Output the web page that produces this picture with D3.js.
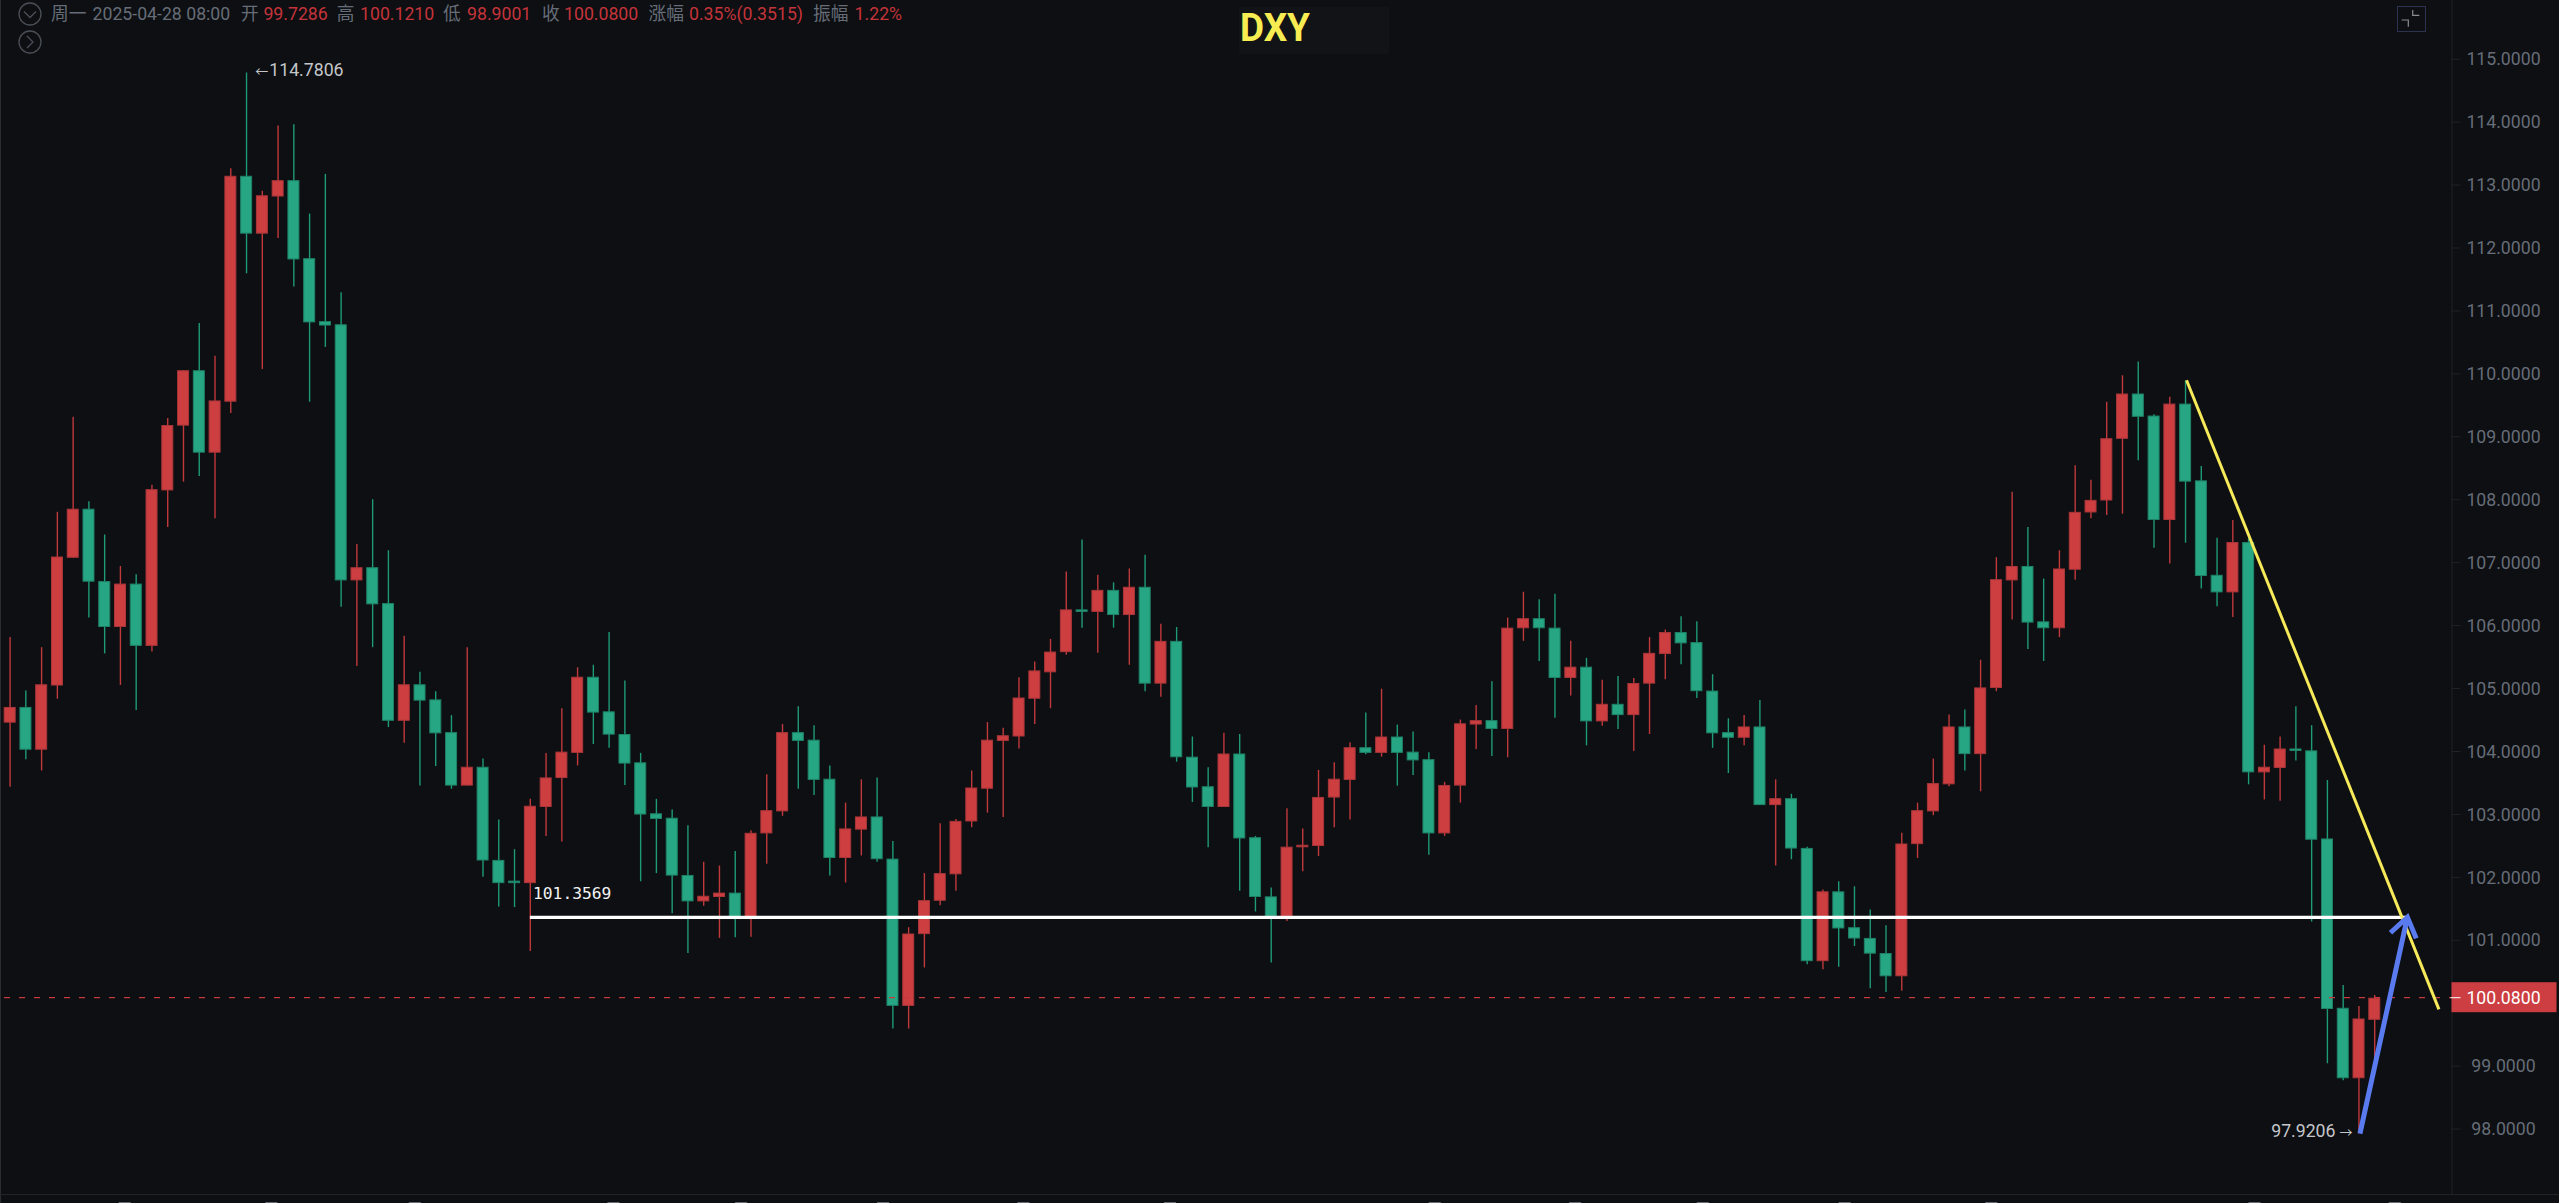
<!DOCTYPE html>
<html><head><meta charset="utf-8"><title>DXY</title>
<script src="https://cdn.jsdelivr.net/npm/d3@7/dist/d3.min.js"></script>
<style>
html,body{margin:0;padding:0;background:#0d0f12;overflow:hidden}
svg{display:block}
text{font-family:Roboto,"Noto Sans CJK SC",sans-serif}
</style></head><body>
<script>
const opens=[104.45,104.70,104.02,105.04,107.07,107.85,106.70,105.97,106.66,105.67,
108.14,109.17,110.05,108.74,109.55,113.14,112.22,112.81,113.07,111.83,
110.83,110.78,106.71,106.92,106.35,104.48,105.06,104.82,104.30,103.45,
103.75,102.27,101.94,101.90,103.11,103.57,103.97,105.18,104.63,104.27,
103.82,103.01,102.94,102.03,101.61,101.68,101.75,101.33,102.69,103.04,
104.30,104.18,103.56,102.30,102.75,102.96,102.29,99.95,101.09,101.62,
102.04,102.88,103.40,104.16,104.23,104.83,105.25,105.57,106.25,106.21,
106.56,106.16,106.61,105.07,105.75,103.91,103.44,103.11,103.96,102.63,
101.69,101.37,102.47,102.49,103.26,103.54,104.06,103.97,104.23,103.99,
103.87,102.69,103.45,104.42,104.49,104.35,105.95,106.11,105.96,105.16,
105.34,104.47,104.75,104.57,105.07,105.54,105.89,105.73,104.96,104.30,
104.21,104.39,103.14,103.25,102.46,100.66,101.77,101.20,101.03,100.79,
100.42,102.52,103.04,103.47,104.39,103.95,105.00,106.71,106.94,106.06,
105.95,106.88,107.79,107.98,108.96,109.68,109.33,107.67,109.52,108.30,
106.80,106.52,107.32,103.66,103.73,104.04,104.01,102.61,99.92,98.80,99.7286];
const highs=[105.81,104.96,105.65,107.80,109.31,107.97,107.44,106.94,106.81,108.23,
109.29,110.05,110.80,110.28,113.26,114.7806,112.90,113.94,113.96,112.54,
113.17,111.29,107.29,108.00,107.19,105.83,105.26,104.95,104.57,105.65,
103.88,102.91,102.44,103.24,103.97,104.68,105.33,105.37,105.89,105.12,
103.97,103.24,103.07,102.82,102.24,102.18,102.41,102.74,103.63,104.43,
104.71,104.41,103.77,103.18,103.55,103.58,102.57,101.20,102.06,102.85,
102.92,103.69,104.46,104.37,105.17,105.42,105.78,106.85,107.36,106.80,
106.68,106.90,107.12,106.02,105.97,104.23,103.74,104.29,104.27,102.65,
101.83,103.09,102.77,103.70,103.82,104.14,104.61,104.99,104.42,104.31,
103.98,103.51,104.50,104.73,105.11,106.12,106.53,106.41,106.50,105.75,
105.48,105.13,105.19,105.16,105.81,105.93,106.14,106.06,105.22,104.52,
104.57,104.81,103.55,103.32,102.48,101.80,101.93,101.85,101.48,101.23,
102.70,103.18,103.88,104.58,104.66,105.45,107.08,108.12,107.56,106.74,
107.19,108.54,108.31,109.55,109.97,110.19,109.35,109.63,109.89,108.53,
107.39,107.67,107.38,104.10,104.23,104.71,104.41,103.54,100.28,99.95,100.1210];
const lows=[103.43,103.87,103.69,104.83,107.07,106.12,105.55,105.05,104.65,105.58,
107.56,108.28,108.37,107.70,109.37,111.59,110.07,112.15,111.38,109.55,
110.42,106.29,105.35,105.65,104.38,104.13,103.45,103.76,103.40,103.45,
102.00,101.53,101.52,100.82,102.65,102.56,103.77,104.11,104.05,103.46,
101.93,102.06,101.42,100.79,101.54,101.03,101.04,101.05,102.21,102.97,
103.40,103.30,102.02,101.91,102.34,102.24,99.59,99.59,100.56,101.55,
101.78,102.79,103.02,102.95,104.04,104.43,104.68,105.53,105.96,105.56,
105.96,105.37,104.95,104.86,103.83,103.19,102.47,103.11,101.78,101.45,
100.64,101.30,102.09,102.33,102.79,102.91,103.95,103.91,103.45,103.62,
102.35,102.65,103.18,104.03,103.92,103.90,105.75,105.43,104.53,104.88,
104.09,104.40,104.35,104.00,104.27,105.14,105.38,104.84,104.05,103.65,
104.09,103.14,102.18,102.28,100.61,100.53,100.57,100.90,100.23,100.17,
100.19,102.30,102.98,103.44,103.69,103.36,104.95,106.09,105.62,105.43,
105.81,106.72,107.70,107.75,107.77,108.62,107.23,106.98,107.31,106.58,
106.30,106.13,103.47,103.23,103.21,103.85,101.29,99.04,98.77,97.9206,98.9001];
const closes=[104.70,104.02,105.06,107.09,107.85,106.69,105.97,106.66,105.67,108.16,
109.18,110.05,108.74,109.57,113.14,112.22,112.83,113.07,111.81,110.81,
110.76,106.71,106.92,106.33,104.48,105.06,104.80,104.28,103.45,103.75,
102.26,101.90,101.90,103.13,103.58,103.99,105.18,104.61,104.26,103.80,
102.99,102.92,102.02,101.61,101.70,101.75,101.33,102.70,103.06,104.30,
104.16,103.54,102.30,102.77,102.96,102.28,99.95,101.10,101.63,102.06,
102.89,103.42,104.18,104.25,104.85,105.28,105.58,106.25,106.21,106.56,
106.16,106.61,105.07,105.75,103.90,103.42,103.11,103.96,102.61,101.68,
101.37,102.48,102.51,103.27,103.56,104.06,103.97,104.23,103.97,103.85,
102.69,103.46,104.44,104.49,104.35,105.96,106.11,105.95,105.16,105.34,
104.47,104.75,104.57,105.08,105.56,105.89,105.71,104.95,104.28,104.21,
104.39,103.14,103.25,102.45,100.66,101.77,101.18,101.02,100.78,100.42,
102.53,103.06,103.49,104.39,103.95,105.01,106.73,106.94,106.04,105.95,
106.90,107.80,107.99,108.97,109.68,109.31,107.67,109.52,108.28,106.78,
106.52,107.32,103.66,103.75,104.04,104.00,102.59,99.90,98.80,99.75,100.0800];

const yTicks=[98,99,101,102,103,104,105,106,107,108,109,110,111,112,113,114,115];
const lastPrice=100.08;
const supportPrice=101.3569, supportFromIdx=33, supportToIdx=152.1;
const trendIdx=[138.09,154.1], trendPrice=[109.89,99.894];
const arrowIdx=[149.09,152.1], arrowPrice=[97.92,101.36];
const maxPrice=114.7806, maxIdx=15, minPrice=97.9206, minIdx=149;
const dateStubIdx=[7.3,16.6,25.7,38.3,46.4,55.4,64.3,73.6,90.4,99.3,107.4,116.4,125.7,142.4,151.3];
const header=[
 ["周一",51,"l"],["2025-04-28 08:00",92.5,"l"],["开",241,"l"],["99.7286",263.4,"v"],
 ["高",336.7,"l"],["100.1210",360,"v"],["低",443,"l"],["98.9001",467,"v"],
 ["收",542,"l"],["100.0800",564,"v"],["涨幅",648.6,"l"],["0.35%(0.3515)",689,"v"],
 ["振幅",813,"l"],["1.22%",854.6,"v"]];

const W=2559,H=1203, AX=2451.5, BOT=1194;
const BG="#0d0f12",RED="#cd3e41",GREEN="#26a683",REDW="#c0393c",GREENW="#1f9a78",
      REDB="#a93639",GREENB="#1f8268",GREY="#666d78",AXC="#202327",FS=17.7;
const x=d3.scaleLinear().domain([0,150]).range([9.67,2374.3]);
const y=d3.scaleLinear().domain([98,115]).range([1128.6,58.7]);
const svg=d3.select("body").append("svg").attr("width",W).attr("height",H);
svg.append("rect").attr("width",W).attr("height",H).attr("fill",BG);
svg.append("line").attr("x1",0.5).attr("x2",0.5).attr("y1",0).attr("y2",H).attr("stroke","#2a2d31");

// title box
svg.append("rect").attr("x",1239).attr("y",7).attr("width",150).attr("height",47).attr("fill","#111316");
svg.append("text").attr("x",1240).attr("y",40.7).attr("font-size",38.5).attr("font-weight",700)
   .attr("fill","#f7ec52").attr("textLength",70).attr("lengthAdjust","spacingAndGlyphs").text("DXY");

// candles
const data=opens.map((o,i)=>({i,o,h:highs[i],l:lows[i],c:closes[i],up:closes[i]>=o}));
const g=svg.append("g");
g.selectAll("line.w").data(data).join("line").attr("class","w")
 .attr("x1",d=>x(d.i)+0.4).attr("x2",d=>x(d.i)+0.4)
 .attr("y1",d=>y(d.h)).attr("y2",d=>y(d.l))
 .attr("stroke",d=>d.up?REDW:GREENW).attr("stroke-width",1.4);
g.selectAll("rect.b").data(data).join("rect").attr("class","b")
 .attr("x",d=>x(d.i)-5.5).attr("width",11)
 .attr("y",d=>y(Math.max(d.o,d.c))+0.5)
 .attr("height",d=>Math.max(y(Math.min(d.o,d.c))-y(Math.max(d.o,d.c))-1,0.5))
 .attr("fill",d=>d.up?RED:GREEN).attr("stroke",d=>d.up?REDB:GREENB).attr("stroke-width",1);

// last price dashed line
svg.append("line").attr("x1",4).attr("x2",AX).attr("y1",y(lastPrice)).attr("y2",y(lastPrice))
 .attr("stroke","#c43a3e").attr("stroke-width",1.2).attr("stroke-dasharray","6 9");

// axes
svg.append("line").attr("x1",0).attr("x2",W).attr("y1",BOT+0.5).attr("y2",BOT+0.5).attr("stroke",AXC);
const ax=svg.append("g").attr("transform",`translate(${AX},0)`)
 .call(d3.axisRight(y).tickValues(yTicks).tickSize(9).tickFormat(d=>d.toFixed(4)));
ax.select(".domain").attr("stroke",AXC).attr("d",`M0.5,0V${BOT}`);
ax.selectAll(".tick line").attr("stroke",AXC);
ax.selectAll(".tick text").attr("x",52).attr("text-anchor","middle").attr("dy","0.35em")
  .attr("font-size",FS).attr("font-family","Roboto").attr("fill",GREY);
svg.selectAll("rect.stub").data(dateStubIdx).join("rect").attr("class","stub")
 .attr("x",d=>x(d)-6).attr("y",1202).attr("width",12).attr("height",1).attr("fill","#666d78");

// last price tag
svg.append("rect").attr("x",AX).attr("y",y(lastPrice)-15.5).attr("width",105).attr("height",30).attr("fill","#cc3e41");
svg.append("line").attr("x1",AX-1).attr("x2",AX+9).attr("y1",y(lastPrice)).attr("y2",y(lastPrice)).attr("stroke","#fff");
svg.append("text").attr("x",AX+52).attr("y",y(lastPrice)).attr("dy","0.35em").attr("text-anchor","middle")
 .attr("font-size",FS).attr("fill","#fff").text(lastPrice.toFixed(4));

// support line
svg.append("line").attr("x1",x(supportFromIdx)).attr("x2",x(supportToIdx))
 .attr("y1",y(supportPrice)).attr("y2",y(supportPrice)).attr("stroke","#fff").attr("stroke-width",3.4);
svg.append("text").attr("x",533).attr("y",y(supportPrice)-24).attr("dy","0.35em")
 .attr("font-family","DejaVu Sans Mono").style("font-family","DejaVu Sans Mono")
 .attr("font-size",16.3).attr("fill","#f2f2f2").text(supportPrice.toFixed(4));

// yellow trend line
svg.append("line").attr("x1",x(trendIdx[0])).attr("x2",x(trendIdx[1]))
 .attr("y1",y(trendPrice[0])).attr("y2",y(trendPrice[1])).attr("stroke","#f6e95a").attr("stroke-width",3);

// blue arrow
const ax0=x(arrowIdx[0]),ay0=y(arrowPrice[0]),ax1=x(arrowIdx[1]),ay1=y(arrowPrice[1]);
const ang=Math.atan2(ay0-ay1,ax0-ax1),hl=23,ha=Math.PI/5.6;
const pt=a=>[ax1+hl*Math.cos(a),ay1+hl*Math.sin(a)];
const pL=pt(ang+ha+0.05),pR=pt(ang-ha-0.05);
svg.append("path").attr("d",`M${ax0},${ay0}L${ax1},${ay1}M${pL}L${ax1},${ay1}L${pR}`)
 .attr("fill","none").attr("stroke","#5a7bf0").attr("stroke-width",5);

// extrema labels
const LBL="#c4c6ca";
svg.append("text").attr("x",x(maxIdx)+9).attr("y",71).attr("dy","0.35em").attr("font-size",13).attr("fill",LBL).text("←");
svg.append("text").attr("x",269.3).attr("y",70).attr("dy","0.35em").attr("font-size",FS).attr("fill",LBL).text(maxPrice.toFixed(4));
svg.append("text").attr("x",2335.5).attr("y",1131).attr("dy","0.35em").attr("font-size",FS).attr("fill",LBL)
 .attr("text-anchor","end").text(minPrice.toFixed(4));
svg.append("text").attr("x",x(minIdx)-6).attr("y",1132.5).attr("dy","0.35em").attr("font-size",13).attr("fill",LBL)
 .attr("text-anchor","end").text("→");

// header
svg.selectAll("text.hd").data(header).join("text").attr("class","hd")
 .attr("x",d=>d[1]).attr("y",14).attr("dy","0.35em").attr("font-size",FS)
 .attr("fill",d=>d[2]==="l"?GREY:"#c4343a").text(d=>d[0]);
[[14,"M24,11.5L30,17.5L36,11.5"],[42,"M27,36L33,42L27,48"]].forEach(([cy,p])=>{
  svg.append("circle").attr("cx",30).attr("cy",cy).attr("r",11).attr("fill","none").attr("stroke","#4a4f57").attr("stroke-width",1.3);
  svg.append("path").attr("d",p).attr("fill","none").attr("stroke","#4a4f57").attr("stroke-width",1.3);
});

// fullscreen icon
svg.append("rect").attr("x",2397.5).attr("y",6.5).attr("width",28).attr("height",25).attr("fill","none").attr("stroke","#2c3252");
svg.append("path").attr("d","M2412.7,10V15.3H2419.3M2401.7,20H2408.3V26.7").attr("fill","none").attr("stroke","#8a8d92").attr("stroke-width",1.2);
</script></body></html>
